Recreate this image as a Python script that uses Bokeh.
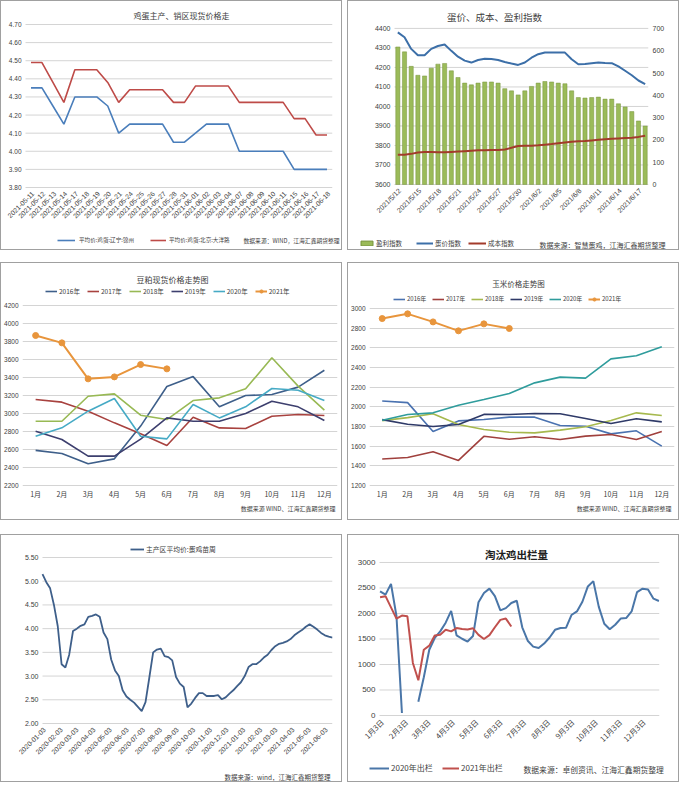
import math
import datetime as dt
from bokeh.plotting import figure
from bokeh.models import (Range1d, LinearAxis, FixedTicker, Legend, LegendItem, Label, LabelSet,
                          ColumnDataSource, FactorRange, Spacer)
from bokeh.layouts import column, row
from bokeh.embed import file_html
from bokeh.resources import INLINE
from bokeh.core.properties import value

CJK = "Noto Sans CJK SC"
NUM = "Liberation Sans"
GRID = "#d4d4d4"
TXT = "#404040"
BORDER = "#a0a0a0"
NaN = float("nan")

# ---------------- data ----------------
# Panel 1: 鸡蛋主产、销区现货价格
p1_dates = ["2021-05-11", "2021-05-12", "2021-05-13", "2021-05-14", "2021-05-17", "2021-05-18",
            "2021-05-19", "2021-05-20", "2021-05-21", "2021-05-24", "2021-05-25", "2021-05-26",
            "2021-05-27", "2021-05-28", "2021-05-31", "2021-06-01", "2021-06-02", "2021-06-03",
            "2021-06-04", "2021-06-07", "2021-06-08", "2021-06-09", "2021-06-10", "2021-06-11",
            "2021-06-15", "2021-06-16", "2021-06-17", "2021-06-18"]
p1_jinzhou = [4.35, 4.35, 4.25, 4.15, 4.30, 4.30, 4.30, 4.25, 4.10, 4.15, 4.15, 4.15, 4.15, 4.05,
              4.05, 4.10, 4.15, 4.15, 4.15, 4.00, 4.00, 4.00, 4.00, 4.00, 3.90, 3.90, 3.90, 3.90]
p1_beijing = [4.49, 4.49, 4.38, 4.27, 4.45, 4.45, 4.45, 4.38, 4.27, 4.34, 4.34, 4.34, 4.34, 4.27,
              4.27, 4.36, 4.36, 4.36, 4.36, 4.27, 4.27, 4.27, 4.27, 4.27, 4.18, 4.18, 4.09, 4.09]
p1_yticks = [3.8, 3.9, 4.0, 4.1, 4.2, 4.3, 4.4, 4.5, 4.6, 4.7]

# Panel 2: 蛋价、成本、盈利指数
p2_dates = ["2021/5/12", "2021/5/13", "2021/5/14", "2021/5/15", "2021/5/16", "2021/5/17",
            "2021/5/18", "2021/5/19", "2021/5/20", "2021/5/21", "2021/5/22", "2021/5/23",
            "2021/5/24", "2021/5/25", "2021/5/26", "2021/5/27", "2021/5/28", "2021/5/29",
            "2021/5/30", "2021/5/31", "2021/6/1", "2021/6/2", "2021/6/3", "2021/6/4",
            "2021/6/5", "2021/6/6", "2021/6/7", "2021/6/8", "2021/6/9", "2021/6/10",
            "2021/6/11", "2021/6/12", "2021/6/13", "2021/6/14", "2021/6/15", "2021/6/16",
            "2021/6/17", "2021/6/18"]
p2_profit = [617, 595, 530, 490, 487, 522, 540, 543, 510, 480, 455, 447, 455, 460, 460, 455, 430,
             420, 402, 420, 440, 455, 462, 460, 455, 452, 420, 390, 388, 390, 392, 383, 383, 362,
             348, 327, 285, 262]
p2_price = [4380, 4355, 4295, 4262, 4262, 4295, 4310, 4318, 4285, 4255, 4235, 4225, 4238, 4245,
            4243, 4238, 4228, 4220, 4213, 4225, 4250, 4268, 4277, 4277, 4277, 4276, 4242, 4216,
            4218, 4222, 4225, 4223, 4222, 4205, 4183, 4160, 4133, 4115]
p2_cost = [3752, 3752, 3757, 3764, 3766, 3766, 3765, 3765, 3767, 3769, 3771, 3773, 3775, 3776,
           3777, 3777, 3779, 3788, 3797, 3798, 3799, 3801, 3804, 3807, 3811, 3815, 3819, 3821,
           3823, 3826, 3829, 3832, 3834, 3836, 3838, 3840, 3844, 3850]
p2_left_ticks = [3600, 3700, 3800, 3900, 4000, 4100, 4200, 4300, 4400]
p2_right_ticks = [0, 100, 200, 300, 400, 500, 600, 700]

# Panel 3: 豆粕现货价格
months = ["1月", "2月", "3月", "4月", "5月", "6月", "7月", "8月", "9月", "10月", "11月", "12月"]
p3_2016 = [2590, 2556, 2441, 2496, 2860, 3300, 3410, 3075, 3200, 3211, 3293, 3481]
p3_2017 = [3156, 3126, 3026, 2896, 2775, 2644, 2959, 2840, 2833, 2970, 2989, 2978]
p3_2018 = [2914, 2914, 3192, 3218, 2981, 2933, 3144, 3174, 3274, 3619, 3304, 3037]
p3_2019 = [2803, 2711, 2526, 2526, 2715, 2951, 2914, 2914, 3000, 3137, 3074, 2922]
p3_2020 = [2748, 2841, 3026, 3167, 2748, 2718, 3100, 2951, 3074, 3278, 3259, 3144]
p3_2021 = [3867, 3785, 3385, 3407, 3544, 3496]
p3_yticks = [2200, 2400, 2600, 2800, 3000, 3200, 3400, 3600, 3800, 4000, 4200]

# Panel 4: 玉米价格
p4_2016 = [2060, 2043, 1750, 1857, 1871, 1895, 1895, 1810, 1803, 1725, 1756, 1600]
p4_2017 = [1470, 1485, 1543, 1455, 1700, 1670, 1695, 1668, 1702, 1719, 1668, 1749]
p4_2018 = [1860, 1890, 1930, 1820, 1770, 1742, 1735, 1763, 1797, 1861, 1939, 1912]
p4_2019 = [1870, 1823, 1800, 1820, 1923, 1922, 1932, 1929, 1881, 1830, 1878, 1847]
p4_2020 = [1864, 1922, 1939, 2017, 2075, 2136, 2244, 2302, 2292, 2488, 2520, 2610]
p4_2021 = [2898, 2946, 2864, 2773, 2844, 2797]
p4_yticks = [1200, 1400, 1600, 1800, 2000, 2200, 2400, 2600, 2800, 3000]

# Panel 5: 主产区平均价 (weekly, from 2020-01-03)
p5_start = dt.date(2020, 1, 3)
p5_price = [5.15, 4.98, 4.85, 4.50, 4.05, 3.25, 3.18, 3.45, 3.95, 4.00,
            4.06, 4.09, 4.25, 4.27, 4.30, 4.25, 3.92, 3.78, 3.35, 3.12,
            3.00, 2.70, 2.57, 2.50, 2.44, 2.35, 2.26, 2.45, 2.97, 3.50,
            3.56, 3.58, 3.42, 3.40, 3.33, 2.98, 2.84, 2.77, 2.34, 2.42,
            2.54, 2.64, 2.64, 2.58, 2.58, 2.58, 2.60, 2.51, 2.55, 2.63,
            2.70, 2.79, 2.87, 3.00, 3.19, 3.25, 3.25, 3.31, 3.39, 3.45,
            3.55, 3.63, 3.68, 3.70, 3.73, 3.78, 3.86, 3.92, 3.97, 4.04,
            4.09, 4.04, 3.98, 3.91, 3.86, 3.83, 3.81]
p5_tick_months = [(2020, m) for m in range(1, 13)] + [(2021, m) for m in range(1, 7)]
p5_yticks = [2.0, 2.5, 3.0, 3.5, 4.0, 4.5, 5.0, 5.5]

# Panel 6: 淘汰鸡出栏量 (weekly, from 1月3日)
p6_2020 = [2435, 2370, 2580, 1950, 50, NaN, NaN, 270, 750, 1290,
           1520, 1650, 1820, 2050, 1570, 1505, 1450, 1560, 2220, 2400,
           2487, 2340, 2060, 2105, 2205, 2250, 1730, 1466, 1350, 1322,
           1410, 1530, 1680, 1715, 1720, 1970, 2040, 2230, 2530, 2635,
           2130, 1800, 1690, 1780, 1900, 1910, 2040, 2420, 2487, 2470,
           2290, 2245]
p6_2021 = [2320, 2340, 2120, 1900, 1960, 1945, 1030, 690, 1290, 1370,
           1570, 1585, 1680, 1650, 1715, 1695, 1685, 1710, 1580, 1500,
           1575, 1730, 1875, 1900, 1745]
p6_yticks = [0, 500, 1000, 1500, 2000, 2500, 3000]


# ---------------- helpers ----------------
def base(width, height, left, right, y_axis=True, **kw):
    # frame spans the full height; x tick labels are drawn inside it
    p = figure(width=width, height=height, output_backend="svg", toolbar_location=None,
               title=None, min_border_left=left, min_border_right=right,
               min_border_top=0, min_border_bottom=0, frame_align=False,
               x_axis_location=None, y_axis_location="left" if y_axis else None, **kw)
    p.outline_line_color = None
    p.background_fill_color = "white"
    p.border_fill_color = "white"
    p.xgrid.grid_line_color = None
    p.ygrid.grid_line_color = GRID
    return p


def strip(width, height):
    s = figure(width=width, height=height, x_range=Range1d(0, width), y_range=Range1d(0, height),
               output_backend="svg", toolbar_location=None, title=None, min_border=0,
               x_axis_type=None, y_axis_type=None, frame_align=False)
    s.outline_line_color = None
    s.background_fill_color = "white"
    s.border_fill_color = "white"
    return s


def style_axes(p, size="7px"):
    for ax in p.axis:
        ax.axis_line_color = None
        ax.major_tick_line_color = None
        ax.minor_tick_line_color = None
        ax.major_tick_out = 0
        ax.major_tick_in = 0
        ax.minor_tick_out = 0
        ax.major_label_text_font = NUM
        ax.major_label_text_font_size = size
        ax.major_label_text_color = TXT
        ax.major_label_standoff = 4


def xlabels(p, xs, texts, ybase, size, font=NUM, rotated=True):
    src = ColumnDataSource(dict(x=list(xs), y=[ybase] * len(xs), t=list(texts)))
    if rotated:
        ls = LabelSet(x="x", y="y", text="t", source=src, angle=math.pi / 4,
                      text_align="right", text_baseline="middle", x_offset=2, y_offset=-5,
                      text_font=value(font), text_font_size=value(size), text_color=value(TXT))
    else:
        ls = LabelSet(x="x", y="y", text="t", source=src, text_align="center",
                      text_baseline="top", y_offset=-4,
                      text_font=value(font), text_font_size=value(size), text_color=value(TXT))
    p.add_layout(ls)


def ylabels_grid(p, ticks, texts, x_right, x0, x1, size):
    # y tick labels drawn inside the frame, gridlines limited to the plotting area
    p.ygrid.grid_line_color = None
    p.segment(x0=[x0] * len(ticks), x1=[x1] * len(ticks), y0=ticks, y1=ticks,
              line_color=GRID, line_width=1)
    src = ColumnDataSource(dict(x=[x_right] * len(ticks), y=list(ticks), t=list(texts)))
    p.add_layout(LabelSet(x="x", y="y", text="t", source=src, x_units="screen",
                          text_align="right", text_baseline="middle",
                          text_font=value(NUM), text_font_size=value(size),
                          text_color=value(TXT)))


def title_in(p, s, x_screen, y_data, size, bold=False, color=TXT):
    p.add_layout(Label(x=x_screen, y=y_data, x_units="screen", y_units="data", text=s,
                       text_font=CJK, text_font_size=size, text_align="center",
                       text_baseline="middle", text_color=color,
                       text_font_style="bold" if bold else "normal"))


def text_screen(p, x, y, s, size, align="left"):
    p.add_layout(Label(x=x, y=y, x_units="screen", y_units="screen", text=s, text_font=CJK,
                       text_font_size=size, text_align=align, text_baseline="middle",
                       text_color=TXT))


def text_at(p, x, y, s, size, align="left"):
    p.add_layout(Label(x=x, y=y, text=s, text_font=CJK, text_font_size=size,
                       text_align=align, text_baseline="middle", text_color=TXT))


def legend_at(p, items, vx, vy, size="6px", glyph_w=15, spacing=8, standoff=3, glyph_h=8):
    lg = Legend(items=items, location=(vx, vy), orientation="horizontal",
                label_text_font=CJK, label_text_font_size=size, label_text_color=TXT,
                glyph_width=glyph_w, glyph_height=glyph_h, label_height=8,
                label_standoff=standoff, spacing=spacing, padding=0, margin=0,
                border_line_color=None, background_fill_alpha=0)
    p.add_layout(lg, "center")


def panel(*figs):
    c = column(*figs)
    c.styles = {"border": f"1px solid {BORDER}"}
    return c


C_BLUE = "#4A7EBB"
C_RED = "#BE4B48"

# ---------------- panel 1 ----------------
p1_idx = list(range(len(p1_dates)))
p1 = base(340, 230, 0, 9, y_axis=False, x_range=Range1d(-2.69, len(p1_dates) - 0.5),
          y_range=Range1d(3.557, 4.827))
ylabels_grid(p1, p1_yticks, [f"{v:.2f}" for v in p1_yticks], 20, -0.5, len(p1_dates) - 0.5, "6.5px")
p1.line(p1_idx, p1_jinzhou, line_color=C_BLUE, line_width=1.6)
p1.line(p1_idx, p1_beijing, line_color=C_RED, line_width=1.6)
xlabels(p1, p1_idx, p1_dates, p1_yticks[0], "6.8px")
title_in(p1, "鸡蛋主产、销区现货价格走", 180, 4.75, "8px")
s1 = strip(340, 18)
l1a = s1.line(x=[NaN], y=[NaN], line_color=C_BLUE, line_width=1.6)
l1b = s1.line(x=[NaN], y=[NaN], line_color=C_RED, line_width=1.6)
legend_at(s1, [LegendItem(label="平均价:鸡蛋:辽宁:锦州", renderers=[l1a])],
          vx=56, vy=5, size="5.6px", glyph_w=18, standoff=4)
legend_at(s1, [LegendItem(label="平均价:鸡蛋:北京:大洋路", renderers=[l1b])],
          vx=149, vy=5, size="5.6px", glyph_w=16, standoff=3)
text_at(s1, 242, 9, "数据来源：WIND，江海汇鑫期货整理", "5.8px")

# ---------------- panel 2 ----------------
C_BAR = "#9BBB59"
C_BAR_LINE = "#77933C"
C_PRICE = "#3C6FA8"
C_COST = "#A33B2B"
p2_idx = list(range(len(p2_dates)))
p2 = base(330, 230, 0, 30, y_axis=False, x_range=Range1d(-7.38, len(p2_dates) - 0.5),
          y_range=Range1d(3359, 4538))
p2.extra_y_ranges = {"profit": Range1d(-211, 821)}
ylabels_grid(p2, p2_left_ticks, [str(v) for v in p2_left_ticks], 42, -0.5, len(p2_dates) - 0.5, "7px")
p2.vbar(x=p2_idx, top=p2_profit, width=0.62, y_range_name="profit",
        fill_color=C_BAR, line_color=C_BAR_LINE, line_width=0.5)
p2.line(p2_idx, p2_price, line_color=C_PRICE, line_width=2)
p2.line(p2_idx, p2_cost, line_color=C_COST, line_width=2)
p2.add_layout(LinearAxis(y_range_name="profit", ticker=FixedTicker(ticks=p2_right_ticks)), "right")
style_axes(p2, size="7px")
xlabels(p2, p2_idx[::3], p2_dates[::3], p2_left_ticks[0], "7px")
title_in(p2, "蛋价、成本、盈利指数", 146, 4456, "9.5px")
s2 = strip(330, 18)
l2a = s2.vbar(x=[NaN], top=[NaN], width=1, fill_color=C_BAR, line_color=C_BAR_LINE)
l2b = s2.line(x=[NaN], y=[NaN], line_color=C_PRICE, line_width=2)
l2c = s2.line(x=[NaN], y=[NaN], line_color=C_COST, line_width=2)
legend_at(s2, [LegendItem(label="盈利指数", renderers=[l2a])],
          vx=11, vy=1, size="6.5px", glyph_w=15, standoff=2, glyph_h=6)
legend_at(s2, [LegendItem(label="蛋价指数", renderers=[l2b])],
          vx=68, vy=1, size="6.5px", glyph_w=17, standoff=2)
legend_at(s2, [LegendItem(label="成本指数", renderers=[l2c])],
          vx=120, vy=1, size="6.5px", glyph_w=18, standoff=2)
text_at(s2, 191, 5, "数据来源：智慧蛋鸡，江海汇鑫期货整理", "7px")

# ---------------- panel 3 ----------------
c3 = ["#3E5F8A", "#A8423F", "#98B954", "#3D3F6E", "#46AAC5", "#E8953C"]
labels_y = ["2016年", "2017年", "2018年", "2019年", "2020年", "2021年"]
p3 = base(340, 256, 21, 4, x_range=FactorRange(*months), y_range=Range1d(1822, 4667))
items3 = []
for lab, ys, c in zip(labels_y[:5], [p3_2016, p3_2017, p3_2018, p3_2019, p3_2020], c3):
    r = p3.line(months, ys, line_color=c, line_width=1.6)
    items3.append(LegendItem(label=lab, renderers=[r]))
r21 = p3.line(months[:len(p3_2021)], p3_2021, line_color=c3[5], line_width=2)
s21 = p3.scatter(months[:len(p3_2021)], p3_2021, marker="circle", size=6,
                 fill_color=c3[5], line_color=c3[5])
items3.append(LegendItem(label=labels_y[5], renderers=[r21, s21]))
p3.yaxis.ticker = FixedTicker(ticks=p3_yticks)
style_axes(p3, size="6.5px")
xlabels(p3, months, months, p3_yticks[0], "7px", font=CJK, rotated=False)
title_in(p3, "豆粕现货价格走势图", 150, 4489, "8px")
legend_at(p3, items3, vx=23, vy=223, size="6.5px", glyph_w=12, spacing=7, standoff=2)
text_screen(p3, 313, 11, "数据来源 WIND、江海汇鑫期货整理", "6px", align="right")

# ---------------- panel 4 ----------------
c4 = ["#4A72B0", "#A0403D", "#A6B94E", "#2F3A68", "#2F9C9C", "#E8953C"]
p4 = base(330, 256, 21, 4, x_range=FactorRange(*months), y_range=Range1d(854, 3458))
items4 = []
for lab, ys, c in zip(labels_y[:5], [p4_2016, p4_2017, p4_2018, p4_2019, p4_2020], c4):
    r = p4.line(months, ys, line_color=c, line_width=1.6)
    items4.append(LegendItem(label=lab, renderers=[r]))
r21b = p4.line(months[:len(p4_2021)], p4_2021, line_color=c4[5], line_width=2)
s21b = p4.scatter(months[:len(p4_2021)], p4_2021, marker="circle", size=6,
                  fill_color=c4[5], line_color=c4[5])
items4.append(LegendItem(label=labels_y[5], renderers=[r21b, s21b]))
p4.yaxis.ticker = FixedTicker(ticks=p4_yticks)
style_axes(p4, size="6.5px")
xlabels(p4, months, months, p4_yticks[0], "7px", font=CJK, rotated=False)
title_in(p4, "玉米价格走势图", 149, 3254, "7.5px")
legend_at(p4, items4, vx=24, vy=216, size="6px", glyph_w=12, spacing=5, standoff=2)
text_screen(p4, 302, 11, "数据来源 WIND、江海汇鑫期货整理", "6px", align="right")

# ---------------- panel 5 ----------------
p5_x = [7 * i for i in range(len(p5_price))]
p5_ticks = [(dt.date(y, m, 3) - p5_start).days for (y, m) in p5_tick_months]
p5_labels = [f"{y}-{m:02d}-03" for (y, m) in p5_tick_months]
p5 = base(340, 246, 0, 9, y_axis=False, x_range=Range1d(-75.2, p5_x[-1]),
          y_range=Range1d(0.777, 5.964))
ylabels_grid(p5, p5_yticks, [f"{v:.2f}" for v in p5_yticks], 37, p5_x[0], p5_x[-1], "7px")
r5 = p5.line(p5_x, p5_price, line_color="#3E5F8A", line_width=1.8)
xlabels(p5, p5_ticks, p5_labels, p5_yticks[0], "6.8px")
legend_at(p5, [LegendItem(label="主产区平均价:蛋鸡苗周", renderers=[r5])],
          vx=129, vy=227, size="6.8px", glyph_w=14, spacing=8, standoff=2)
text_screen(p5, 329, 5, "数据来源：wind，江海汇鑫期货整理", "6.5px", align="right")

# ---------------- panel 6 ----------------
C6_20 = "#4A76A8"
C6_21 = "#C0504D"
p6_w20 = list(range(len(p6_2020)))
p6_w21 = list(range(len(p6_2021)))
p6_ticks = [(dt.date(2020, m, 3) - dt.date(2020, 1, 3)).days / 7 for m in range(1, 13)]
p6_labels = [f"{m}月3日" for m in range(1, 13)]
p6 = base(330, 228, 0, 19, y_axis=False, x_range=Range1d(-5.77, len(p6_2020) - 0.9),
          y_range=Range1d(-941, 3529))
ylabels_grid(p6, p6_yticks, [str(v) for v in p6_yticks], 27, -0.1, len(p6_2020) - 0.9, "8px")
p6.line(p6_w20, p6_2020, line_color=C6_20, line_width=2)
p6.line(p6_w21, p6_2021, line_color=C6_21, line_width=2)
xlabels(p6, p6_ticks, p6_labels, p6_yticks[0], "7.5px", font=CJK)
title_in(p6, "淘汰鸡出栏量", 168, 3157, "10.5px", bold=True, color="#202020")
s6 = strip(330, 18)
l6a = s6.line(x=[NaN], y=[NaN], line_color=C6_20, line_width=2)
l6b = s6.line(x=[NaN], y=[NaN], line_color=C6_21, line_width=2)
legend_at(s6, [LegendItem(label="2020年出栏", renderers=[l6a])],
          vx=21, vy=8, size="8px", glyph_w=20, standoff=2)
legend_at(s6, [LegendItem(label="2021年出栏", renderers=[l6b])],
          vx=94, vy=8, size="8px", glyph_w=17, standoff=2)
text_at(s6, 175, 12, "数据来源：卓创资讯、江海汇鑫期货整理", "7.8px")

layout = column(
    row(panel(p1, s1), Spacer(width=5), panel(p2, s2)),
    Spacer(height=12),
    row(panel(p3), Spacer(width=5), panel(p4)),
    Spacer(height=14),
    row(panel(p5), Spacer(width=5), panel(p6, s6)),
)

open("out.html", "w").write(file_html(layout, INLINE))
